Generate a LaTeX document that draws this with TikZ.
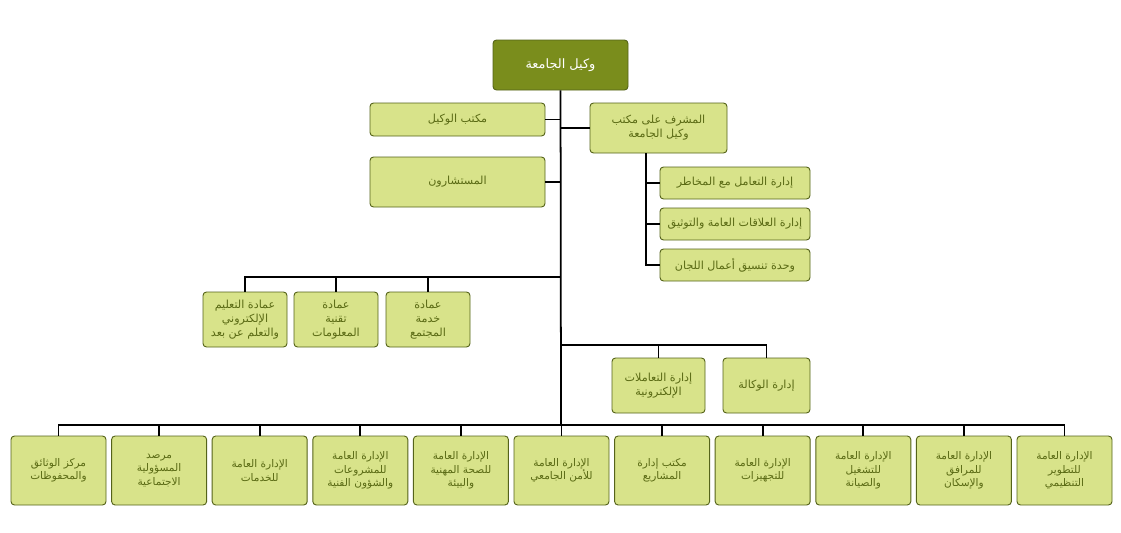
\documentclass[tikz,border=0pt]{standalone}
\usepackage{fontspec}
\newfontfamily\arfont[Script=Arabic]{DejaVu Sans}
\TeXXeTstate=1
\newcommand{\ar}[1]{{\arfont\beginR #1\endR}}
\definecolor{boxfill}{HTML}{D8E38A}
\definecolor{boxline}{HTML}{55631A}
\definecolor{boxtext}{HTML}{5A6A14}
\definecolor{headfill}{HTML}{7A8D1C}
\tikzset{
  unitbox/.style={draw=boxline, fill=boxfill, rounded corners=3pt, line width=0.8pt,
    text=boxtext, align=center, font=\fontsize{9.5}{12}\selectfont, inner sep=2pt},
  link/.style={line width=1.5pt, black}
}
\begin{document}
\begin{tikzpicture}[x=0.03cm, y=-0.03cm]
\useasboundingbox (0,0) rectangle (1121,533);
% top
\node [unitbox, fill=headfill, text=white, minimum width=135*0.03cm, minimum height=50*0.03cm,
  font=\fontsize{11}{13}\selectfont] (head) at (560.5,65) {\ar{وكيل الجامعة}};
% first level
\node [unitbox, minimum width=175*0.03cm, minimum height=33*0.03cm] (office) at (457.5,119.5) {\ar{مكتب الوكيل}};
\node [unitbox, minimum width=137*0.03cm, minimum height=50*0.03cm] (super) at (658.5,128) {\ar{المشرف على مكتب}\\\ar{وكيل الجامعة}};
\node [unitbox, minimum width=175*0.03cm, minimum height=50*0.03cm] (advis) at (457.5,182) {\ar{المستشارون}};
% under supervisor
\node [unitbox, minimum width=150*0.03cm, minimum height=32*0.03cm] (risk) at (735,183) {\ar{إدارة التعامل مع المخاطر}};
\node [unitbox, minimum width=150*0.03cm, minimum height=32*0.03cm] (pr) at (735,224) {\ar{إدارة العلاقات العامة والتوثيق}};
\node [unitbox, minimum width=150*0.03cm, minimum height=32*0.03cm] (comm) at (735,265) {\ar{وحدة تنسيق أعمال اللجان}};
% deanships
\foreach \n/\x/\t in {d1/245/{\ar{عمادة التعليم}\\\ar{الإلكتروني}\\\ar{والتعلم عن بعد}},
                      d2/336/{\ar{عمادة}\\\ar{تقنية}\\\ar{المعلومات}},
                      d3/428/{\ar{عمادة}\\\ar{خدمة}\\\ar{المجتمع}}}
  \node [unitbox, minimum width=84*0.03cm, minimum height=55*0.03cm] (\n) at (\x,319.5) {\t};
% agency
\node [unitbox, minimum width=93*0.03cm, minimum height=55*0.03cm] (etr) at (658.5,385.5) {\ar{إدارة التعاملات}\\\ar{الإلكترونية}};
\node [unitbox, minimum width=87*0.03cm, minimum height=55*0.03cm] (agcy) at (766.5,385.5) {\ar{إدارة الوكالة}};
% general departments
\foreach \i/\t in {1/{\ar{مركز الوثائق}\\\ar{والمحفوظات}},
                   2/{\ar{مرصد}\\\ar{المسؤولية}\\\ar{الاجتماعية}},
                   3/{\ar{الإدارة العامة}\\\ar{للخدمات}},
                   4/{\ar{الإدارة العامة}\\\ar{للمشروعات}\\\ar{والشؤون الفنية}},
                   5/{\ar{الإدارة العامة}\\\ar{للصحة المهنية}\\\ar{والبيئة}},
                   6/{\ar{الإدارة العامة}\\\ar{للأمن الجامعي}},
                   7/{\ar{مكتب إدارة}\\\ar{المشاريع}},
                   8/{\ar{الإدارة العامة}\\\ar{للتجهيزات}},
                   9/{\ar{الإدارة العامة}\\\ar{للتشغيل}\\\ar{والصيانة}},
                   10/{\ar{الإدارة العامة}\\\ar{للمرافق}\\\ar{والإسكان}},
                   11/{\ar{الإدارة العامة}\\\ar{للتطوير}\\\ar{التنظيمي}}}
  \node [unitbox, minimum width=95*0.03cm, minimum height=69*0.03cm,
    font=\fontsize{9}{11.5}\selectfont] (g\i) at ({58.5+100.6*(\i-1)},470.5) {\t};
% buses
\coordinate (busD) at (561,277);
\coordinate (busA) at (561,345);
\coordinate (busG) at (561,425);
\draw [link] (head) -- (busG);
\draw [link] (office) -- (office -| head);
\draw [link] (super) -- (super -| head);
\draw [link] (advis) -- (advis -| head);
\draw [link] (super.south -| 646,0) |- (comm);
\foreach \n in {risk,pr}
  \draw [link] (\n) -- (\n -| 646,0);
\draw [link] (d1) |- (busD);
\foreach \n in {d2,d3}
  \draw [link] (\n) -- (\n |- busD);
\draw [link] (busA) -| (agcy);
\draw [link] (etr) -- (etr |- busA);
\draw [link] (g1) |- (busG) -| (g11);
\foreach \i in {2,...,10}
  \draw [link] (g\i) -- (g\i |- busG);
\end{tikzpicture}
\end{document}
